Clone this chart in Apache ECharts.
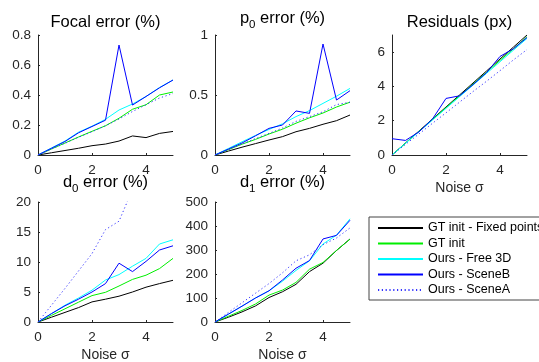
<!DOCTYPE html>
<html>
<head>
<meta charset="utf-8">
<script src="https://cdn.jsdelivr.net/npm/echarts@6/dist/echarts.min.js"></script>
<style>html,body{margin:0;padding:0;background:#fff}#c{width:539px;height:362px}</style>
</head>
<body>
<div id="c"></div>
<script>
const noise = [0, 0.5, 1, 1.5, 2, 2.5, 3, 3.5, 4, 4.5, 5];
const methodNames = ['GT init - Fixed points', 'GT init', 'Ours - Free 3D', 'Ours - SceneB', 'Ours - SceneA'];

// Focal error (%)
const focalFixed  = [0, 0.015, 0.03, 0.045, 0.062, 0.073, 0.093, 0.127, 0.116, 0.144, 0.157];
const focalGT     = [0, 0.04, 0.08, 0.12, 0.158, 0.195, 0.245, 0.305, 0.335, 0.40, 0.42];
const focalFree   = [0, 0.047, 0.093, 0.152, 0.192, 0.238, 0.30, 0.34, 0.39, 0.45, 0.50];
const focalSceneB = [0, 0.045, 0.09, 0.148, 0.19, 0.232, 0.733, 0.333, 0.39, 0.448, 0.50];
const focalSceneA = [0, 0.04, 0.078, 0.118, 0.155, 0.195, 0.24, 0.29, 0.335, 0.38, 0.41];

// p0 error (%)
const p0Fixed  = [0, 0.033, 0.065, 0.095, 0.125, 0.153, 0.194, 0.222, 0.256, 0.286, 0.333];
const p0GT     = [0, 0.045, 0.09, 0.13, 0.175, 0.215, 0.265, 0.31, 0.35, 0.40, 0.44];
const p0Free   = [0, 0.055, 0.11, 0.163, 0.213, 0.26, 0.32, 0.37, 0.43, 0.49, 0.555];
const p0SceneB = [0, 0.05, 0.1, 0.16, 0.222, 0.25, 0.367, 0.347, 0.925, 0.458, 0.536];
const p0SceneA = [0, 0.045, 0.092, 0.137, 0.18, 0.225, 0.28, 0.32, 0.36, 0.42, 0.44];

// Residuals (px)
const resFixed  = [0, 0.7, 1.4, 2.1, 2.8, 3.5, 4.2, 4.9, 5.6, 6.3, 7.0];
const resGT     = [0, 0.69, 1.38, 2.07, 2.76, 3.45, 4.14, 4.83, 5.52, 6.2, 6.9];
const resFree   = [0, 0.68, 1.36, 2.04, 2.72, 3.4, 4.08, 4.76, 5.44, 6.12, 6.8];
const resSceneB = [0.95, 0.85, 1.35, 2.1, 3.3, 3.45, 4.1, 4.8, 5.75, 6.2, 6.85];
const resSceneA = [0, 0.62, 1.23, 1.85, 2.46, 3.08, 3.7, 4.3, 4.92, 5.55, 6.15];

// d0 error (%)
const d0Fixed  = [0, 0.8, 1.6, 2.4, 3.35, 3.8, 4.3, 5.0, 5.8, 6.4, 6.95];
const d0GT     = [0, 1.1, 2.2, 3.3, 4.4, 4.95, 6.0, 7.1, 7.8, 8.9, 10.6];
const d0Free   = [0, 1.4, 2.8, 4.0, 5.3, 7.0, 7.9, 9.3, 10.6, 13.0, 13.7];
const d0SceneB = [0, 1.4, 2.7, 3.8, 5.0, 6.4, 9.8, 8.4, 10.1, 12.0, 12.7];
const d0SceneA = [0, 2.8, 5.6, 8.5, 11.4, 15.4, 16.8, 22.1, 27, 32, 37];

// d1 error (%)
const d1Fixed  = [0, 20, 42, 67, 102, 126, 157, 210, 245, 298, 346];
const d1GT     = [0, 24, 48, 75, 112, 133, 165, 220, 248, 298, 345];
const d1Free   = [0, 33, 66, 100, 130, 170, 215, 255, 325, 362, 430];
const d1SceneB = [0, 33, 66, 100, 130, 175, 224, 256, 346, 361, 424];
const d1SceneA = [0, 40, 80, 120, 160, 205, 255, 280, 322, 350, 392];

const xTicks = [0, 2, 4];
const focalTicks = [0, 0.2, 0.4, 0.6, 0.8];
const p0Ticks = [0, 0.5, 1];
const resTicks = [0, 2, 4, 6];
const d0Ticks = [0, 5, 10, 15, 20];
const d1Ticks = [0, 100, 200, 300, 400, 500];

const panels = [
  { data: [focalFixed, focalGT, focalFree, focalSceneB, focalSceneA], max: 0.8, ticks: focalTicks, name: false },
  { data: [p0Fixed, p0GT, p0Free, p0SceneB, p0SceneA], max: 1, ticks: p0Ticks, name: false },
  { data: [resFixed, resGT, resFree, resSceneB, resSceneA], max: 7, ticks: resTicks, name: true },
  { data: [d0Fixed, d0GT, d0Free, d0SceneB, d0SceneA], max: 20, ticks: d0Ticks, name: true },
  { data: [d1Fixed, d1GT, d1Free, d1SceneB, d1SceneA], max: 500, ticks: d1Ticks, name: true }
];

const gridPos = [
  { left: 38, top: 35 }, { left: 215, top: 35 }, { left: 392, top: 35 },
  { left: 38, top: 202 }, { left: 215, top: 202 }
];

const styles = [
  { color: '#000000', type: 'solid' },
  { color: '#00ee00', type: 'solid' },
  { color: '#00ffff', type: 'solid' },
  { color: '#0000ff', type: 'solid' },
  { color: '#3333ff', type: [1.2, 2.6] }
];

const FONT = '"Liberation Sans", Arial, Helvetica, sans-serif';
const axCol = '#262626';

const grids = gridPos.map(g => ({ left: g.left, top: g.top, width: 135, height: 120, outerBoundsMode: 'none', containLabel: false }));

const baseAxis = {
  type: 'value',
  axisLine: { show: true, lineStyle: { color: axCol, width: 1 } },
  axisTick: { show: true, inside: true, length: 2, lineStyle: { color: axCol } },
  axisLabel: { color: axCol, fontSize: 13.5, fontFamily: FONT, margin: 7 },
  splitLine: { show: false }
};

const xAxes = panels.map((p, i) => Object.assign({}, baseAxis, {
  gridIndex: i, min: 0, max: 5,
  axisTick: Object.assign({}, baseAxis.axisTick, { customValues: xTicks }),
  axisLabel: Object.assign({}, baseAxis.axisLabel, { customValues: xTicks, margin: 8 }),
  name: p.name ? 'Noise σ' : '',
  nameLocation: 'middle', nameGap: 26,
  nameTextStyle: { color: axCol, fontSize: 14, fontFamily: FONT }
}));

const yAxes = panels.map((p, i) => Object.assign({}, baseAxis, {
  gridIndex: i, min: 0, max: p.max,
  axisTick: Object.assign({}, baseAxis.axisTick, { customValues: p.ticks }),
  axisLabel: Object.assign({}, baseAxis.axisLabel, { customValues: p.ticks, formatter: v => String(+v.toFixed(4)) })
}));

const series = [];
panels.forEach((p, i) => {
  p.data.forEach((vals, k) => {
    series.push({
      type: 'line', name: methodNames[k], xAxisIndex: i, yAxisIndex: i,
      data: noise.map((x, j) => [x, vals[j]]),
      symbol: 'none', showSymbol: false, clip: true,
      lineStyle: { color: styles[k].color, width: 1, type: styles[k].type },
      itemStyle: { color: styles[k].color },
      emphasis: { disabled: true }, animation: false
    });
  });
});

const titleFont = 16.5;
function richTitle(x, y, main, sub, rest) {
  return {
    type: 'text', x: x, y: y, silent: true,
    style: {
      text: '{m|' + main + '}{s|' + sub + '}{m|' + rest + '}',
      align: 'center', verticalAlign: 'middle',
      rich: {
        m: { fontSize: titleFont, fontFamily: FONT, fill: '#000' },
        s: { fontSize: 11.5, fontFamily: FONT, fill: '#000', padding: [14, 0, 0, 0] }
      }
    }
  };
}
function plainTitle(x, y, t) {
  return { type: 'text', x: x, y: y, silent: true,
    style: { text: t, font: titleFont + 'px ' + FONT, fill: '#000', align: 'center', verticalAlign: 'middle' } };
}

const option = {
  backgroundColor: '#ffffff',
  animation: false,
  grid: grids, xAxis: xAxes, yAxis: yAxes, series: series,
  legend: {
    data: methodNames, orient: 'vertical', left: 369, top: 217,
    itemWidth: 45, itemHeight: 14, itemGap: 1.5,
    padding: [4, 8, 3, 8],
    borderColor: '#444', borderWidth: 1, backgroundColor: '#fff',
    itemStyle: { opacity: 0, borderWidth: 0 },
    textStyle: { color: '#000', fontSize: 12.5, fontFamily: FONT, lineHeight: 14 },
    selectedMode: false
  },
  graphic: [
    plainTitle(105.5, 22, 'Focal error (%)'),
    richTitle(282.5, 18, 'p', '0', ' error (%)'),
    plainTitle(459.5, 22, 'Residuals (px)'),
    richTitle(105.5, 182, 'd', '0', ' error (%)'),
    richTitle(282.5, 182, 'd', '1', ' error (%)')
  ]
};

const chart = echarts.init(document.getElementById('c'), null, { renderer: 'canvas' });
chart.setOption(option);
</script>
</body>
</html>
